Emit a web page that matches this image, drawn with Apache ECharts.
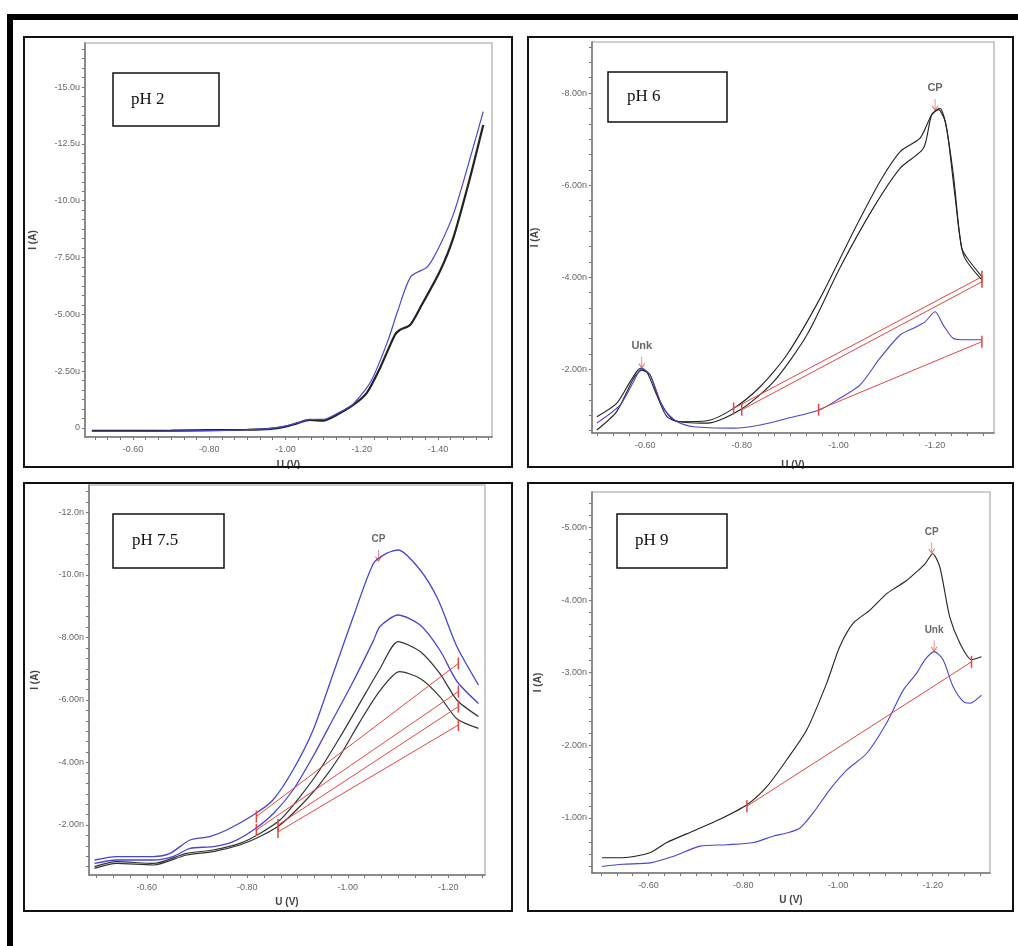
<!DOCTYPE html>
<html>
<head>
<meta charset="utf-8">
<script src="https://cdn.jsdelivr.net/npm/echarts@6/dist/echarts.min.js"></script>
<style>html,body{margin:0;background:#fff}#main{width:1018px;height:946px}</style>
</head>
<body>
<div id="main"></div>
<script>
// tick labels of each panel
var xTicks = [-0.6, -0.8, -1.0, -1.2, -1.4];
var xTickLabels = ['-0.60', '-0.80', '-1.00', '-1.20', '-1.40'];
var ph2YTicks = [0, -2.5, -5, -7.5, -10, -12.5, -15];
var ph2YLabels = ['0', '-2.50u', '-5.00u', '-7.50u', '-10.0u', '-12.5u', '-15.0u'];
var ph6YTicks = [-2, -4, -6, -8];
var ph6YLabels = ['-2.00n', '-4.00n', '-6.00n', '-8.00n'];
var ph75YTicks = [-2, -4, -6, -8, -10, -12];
var ph75YLabels = ['-2.00n', '-4.00n', '-6.00n', '-8.00n', '-10.0n', '-12.0n'];
var ph9YTicks = [-1, -2, -3, -4, -5];
var ph9YLabels = ['-1.00n', '-2.00n', '-3.00n', '-4.00n', '-5.00n'];

// curves [U (V), I]
var ph2Black = [[-0.492,0.13],[-0.60,0.13],[-0.70,0.12],[-0.80,0.10],[-0.90,0.08],[-0.96,0.04],[-1.00,-0.06],[-1.03,-0.2],[-1.064,-0.35],[-1.099,-0.32],[-1.134,-0.57],[-1.178,-1.01],[-1.213,-1.53],[-1.248,-2.63],[-1.287,-4.09],[-1.300,-4.31],[-1.327,-4.53],[-1.353,-5.27],[-1.405,-6.88],[-1.440,-8.34],[-1.484,-10.99],[-1.519,-13.33]];
var ph2Blue = [[-0.492,0.15],[-0.60,0.15],[-0.70,0.14],[-0.80,0.12],[-0.90,0.08],[-0.96,0.02],[-1.00,-0.08],[-1.03,-0.22],[-1.064,-0.37],[-1.10,-0.38],[-1.134,-0.62],[-1.178,-1.06],[-1.224,-2.04],[-1.268,-3.80],[-1.294,-5.12],[-1.329,-6.66],[-1.373,-7.10],[-1.408,-8.13],[-1.443,-9.52],[-1.482,-11.72],[-1.519,-13.92]];

var ph6BlackA = [[-0.50,-0.97],[-0.541,-1.26],[-0.569,-1.73],[-0.590,-2.02],[-0.603,-1.95],[-0.624,-1.44],[-0.645,-0.97],[-0.672,-0.86],[-0.728,-0.88],[-0.783,-1.15],[-0.838,-1.62],[-0.893,-2.31],[-0.962,-3.54],[-1.031,-4.99],[-1.086,-6.08],[-1.128,-6.73],[-1.169,-7.02],[-1.193,-7.53],[-1.207,-7.64],[-1.221,-7.38],[-1.238,-6.22],[-1.255,-4.63],[-1.272,-4.34],[-1.297,-4.01]];
var ph6BlackB = [[-0.50,-0.68],[-0.541,-1.08],[-0.576,-1.80],[-0.593,-1.98],[-0.610,-1.88],[-0.631,-1.30],[-0.659,-0.90],[-0.728,-0.83],[-0.797,-1.12],[-0.866,-1.73],[-0.935,-2.75],[-1.003,-4.20],[-1.072,-5.50],[-1.128,-6.37],[-1.176,-6.80],[-1.193,-7.53],[-1.210,-7.67],[-1.224,-7.24],[-1.241,-5.79],[-1.259,-4.48],[-1.297,-3.94]];
var ph6Blue = [[-0.50,-0.83],[-0.548,-1.22],[-0.576,-1.73],[-0.593,-2.02],[-0.610,-1.88],[-0.638,-1.15],[-0.666,-0.86],[-0.700,-0.75],[-0.783,-0.72],[-0.838,-0.79],[-0.893,-0.93],[-0.962,-1.12],[-1.003,-1.37],[-1.045,-1.66],[-1.086,-2.24],[-1.128,-2.75],[-1.155,-2.89],[-1.179,-3.03],[-1.200,-3.25],[-1.217,-2.96],[-1.238,-2.67],[-1.265,-2.64],[-1.297,-2.64]];
var ph6Base = [
  [[-0.783,-1.15],[-1.297,-4.01]],
  [[-0.800,-1.12],[-1.297,-3.90]],
  [[-0.959,-1.12],[-1.297,-2.60]]
];
var ph6Peaks = [[-0.593,-2.02,'Unk'],[-1.200,-7.62,'CP']];

var ph75Blue1 = [[-0.496,-0.88],[-0.540,-0.99],[-0.613,-0.99],[-0.646,-1.09],[-0.686,-1.52],[-0.725,-1.63],[-0.759,-1.84],[-0.812,-2.32],[-0.851,-2.80],[-0.891,-3.76],[-0.931,-5.04],[-0.971,-6.85],[-1.011,-8.67],[-1.051,-10.37],[-1.077,-10.69],[-1.100,-10.80],[-1.144,-10.16],[-1.180,-9.20],[-1.217,-7.71],[-1.260,-6.48]];
var ph75Blue2 = [[-0.496,-0.77],[-0.540,-0.88],[-0.613,-0.88],[-0.652,-0.99],[-0.686,-1.25],[-0.732,-1.31],[-0.772,-1.47],[-0.812,-1.84],[-0.852,-2.37],[-0.891,-3.12],[-0.931,-4.2],[-0.971,-5.4],[-1.011,-6.6],[-1.051,-7.9],[-1.064,-8.35],[-1.100,-8.72],[-1.144,-8.4],[-1.183,-7.6],[-1.217,-6.6],[-1.260,-5.89]];
var ph75Black1 = [[-0.496,-0.67],[-0.540,-0.83],[-0.613,-0.77],[-0.679,-1.09],[-0.732,-1.2],[-0.785,-1.41],[-0.825,-1.73],[-0.865,-2.16],[-0.905,-2.91],[-0.944,-3.76],[-0.984,-4.8],[-1.024,-5.9],[-1.064,-7.0],[-1.100,-7.87],[-1.144,-7.55],[-1.183,-6.85],[-1.217,-6.0],[-1.260,-5.47]];
var ph75Black2 = [[-0.496,-0.61],[-0.540,-0.77],[-0.613,-0.72],[-0.679,-1.04],[-0.732,-1.15],[-0.785,-1.36],[-0.825,-1.63],[-0.865,-2.0],[-0.905,-2.6],[-0.944,-3.3],[-0.984,-4.2],[-1.024,-5.3],[-1.064,-6.3],[-1.103,-6.91],[-1.144,-6.69],[-1.183,-6.11],[-1.217,-5.4],[-1.260,-5.09]];
var ph75Base = [
  [[-0.818,-2.27],[-1.220,-7.17]],
  [[-0.818,-1.84],[-1.220,-6.27]],
  [[-0.861,-2.00],[-1.220,-5.79]],
  [[-0.861,-1.78],[-1.220,-5.20]]
];
var ph75Peaks = [[-1.061,-10.43,'CP']];

var ph9Black = [[-0.502,-0.45],[-0.546,-0.45],[-0.603,-0.52],[-0.639,-0.66],[-0.695,-0.82],[-0.751,-0.98],[-0.808,-1.18],[-0.850,-1.43],[-0.892,-1.80],[-0.934,-2.21],[-0.976,-2.85],[-1.004,-3.36],[-1.032,-3.68],[-1.067,-3.86],[-1.103,-4.09],[-1.124,-4.18],[-1.145,-4.27],[-1.166,-4.39],[-1.184,-4.50],[-1.200,-4.64],[-1.215,-4.46],[-1.236,-3.77],[-1.258,-3.40],[-1.282,-3.18],[-1.303,-3.22]];
var ph9Blue = [[-0.502,-0.33],[-0.546,-0.36],[-0.604,-0.38],[-0.653,-0.47],[-0.709,-0.61],[-0.765,-0.63],[-0.822,-0.66],[-0.864,-0.75],[-0.892,-0.79],[-0.920,-0.86],[-0.948,-1.07],[-0.983,-1.39],[-1.019,-1.66],[-1.061,-1.89],[-1.103,-2.31],[-1.138,-2.76],[-1.166,-2.99],[-1.184,-3.18],[-1.203,-3.29],[-1.222,-3.18],[-1.243,-2.81],[-1.265,-2.60],[-1.279,-2.58],[-1.303,-2.69]];
var ph9Base = [
  [[-0.808,-1.16],[-1.282,-3.15]]
];
var ph9Peaks = [[-1.198,-4.64,'CP'],[-1.203,-3.29,'Unk']];

var BLACK = '#222', BLUE = '#4646d2', RED = '#e4453f';

function minorTicks(anchor, step, lo, hi) {
  var out = [];
  var k = Math.ceil((lo - anchor) / step - 1e-9);
  for (; anchor + k * step <= hi + 1e-9; k++) out.push(+(anchor + k * step).toFixed(6));
  return out;
}
function labelFor(values, labels) {
  return function (v) {
    for (var i = 0; i < values.length; i++) if (Math.abs(values[i] - v) < 1e-6) return labels[i];
    return '';
  };
}

var panels = [
  {grid: {left: 85, top: 43, width: 407, height: 394}, x: [-1.542, -0.474], y: [-16.94, 0.40],
   yt: ph2YTicks, yl: ph2YLabels, ystep: 2.5, gapY: 47, gapX: 23},
  {grid: {left: 592, top: 42, width: 402, height: 391}, x: [-1.322, -0.490], y: [-9.11, -0.615],
   yt: ph6YTicks, yl: ph6YLabels, ystep: 2, gapY: 52, gapX: 27},
  {grid: {left: 89, top: 485, width: 396, height: 390}, x: [-1.273, -0.485], y: [-12.88, -0.40],
   yt: ph75YTicks, yl: ph75YLabels, ystep: 2, gapY: 49, gapX: 22},
  {grid: {left: 592, top: 492, width: 398, height: 381}, x: [-1.321, -0.481], y: [-5.49, -0.24],
   yt: ph9YTicks, yl: ph9YLabels, ystep: 1, gapY: 49, gapX: 22}
];

var grids = [], xAxes = [], yAxes = [];
panels.forEach(function (p, i) {
  grids.push(Object.assign({show: true, borderColor: '#bdbdbd', borderWidth: 1.5, backgroundColor: '#fff'}, p.grid));
  var xl = xTicks.filter(function (v) { return v >= p.x[0] && v <= p.x[1]; });
  xAxes.push({
    type: 'value', gridIndex: i, min: p.x[0], max: p.x[1], inverse: true,
    name: 'U (V)', nameLocation: 'middle', nameGap: p.gapX,
    nameTextStyle: {fontFamily: 'Liberation Sans', fontWeight: 'bold', fontSize: 10, color: '#444'},
    axisLine: {onZero: false, lineStyle: {color: '#777', width: 1.5}},
    axisTick: {customValues: minorTicks(-0.6, 0.2 / 6, p.x[0], p.x[1]), length: 3, lineStyle: {color: '#777'}},
    axisLabel: {customValues: xl, formatter: labelFor(xTicks, xTickLabels), margin: 8,
      fontFamily: 'Liberation Sans', fontSize: 9, color: '#666'},
    splitLine: {show: false}
  });
  yAxes.push({
    type: 'value', gridIndex: i, min: p.y[0], max: p.y[1], inverse: true,
    name: 'I (A)', nameLocation: 'middle', nameGap: p.gapY,
    nameTextStyle: {fontFamily: 'Liberation Sans', fontWeight: 'bold', fontSize: 10, color: '#444'},
    axisLine: {onZero: false, lineStyle: {color: '#777', width: 1.5}},
    axisTick: {customValues: minorTicks(0, p.ystep / 6, p.y[0], p.y[1]), length: 3, lineStyle: {color: '#777'}},
    axisLabel: {customValues: p.yt, formatter: labelFor(p.yt, p.yl), margin: 5,
      fontFamily: 'Liberation Sans', fontSize: 9, color: '#666'},
    splitLine: {show: false}
  });
});

var series = [];
function curve(data, color, width, i) {
  series.push({type: 'line', xAxisIndex: i, yAxisIndex: i, data: data, showSymbol: false, smooth: 0.25,
    lineStyle: {color: color, width: width}, silent: true});
}
function baselines(list, i) {
  list.forEach(function (seg) {
    series.push({type: 'line', xAxisIndex: i, yAxisIndex: i, data: seg, symbol: 'rect', symbolSize: [1.5, 12],
      itemStyle: {color: RED}, lineStyle: {color: RED, width: 1}, silent: true});
  });
}
function peaks(list, i, size) {
  series.push({type: 'scatter', xAxisIndex: i, yAxisIndex: i, data: list,
    symbol: 'path://M0,0L0,10M-3,6L0,10L3,6', symbolSize: [6, 11], symbolOffset: [0, -6],
    itemStyle: {color: 'none', borderColor: RED, borderWidth: 1},
    label: {show: true, position: 'top', distance: 2, formatter: function (p) { return p.value[2]; },
      fontFamily: 'Liberation Sans', fontWeight: 'bold', fontSize: size, color: '#444'}, silent: true});
}

curve(ph2Black, BLACK, 2.2, 0);
curve(ph2Blue, BLUE, 1.2, 0);

curve(ph6BlackA, BLACK, 1.1, 1);
curve(ph6BlackB, BLACK, 1.1, 1);
curve(ph6Blue, BLUE, 1.1, 1);
baselines(ph6Base, 1);
peaks(ph6Peaks, 1, 11);

curve(ph75Blue1, BLUE, 1.3, 2);
curve(ph75Blue2, BLUE, 1.3, 2);
curve(ph75Black1, '#333', 1.2, 2);
curve(ph75Black2, '#333', 1.2, 2);
baselines(ph75Base, 2);
peaks(ph75Peaks, 2, 10);

curve(ph9Black, BLACK, 1.1, 3);
curve(ph9Blue, BLUE, 1.1, 3);
baselines(ph9Base, 3);
peaks(ph9Peaks, 3, 10);

function phBox(x, y, w, h, tx, text) {
  return {type: 'group', children: [
    {type: 'rect', shape: {x: x, y: y, width: w, height: h}, style: {fill: '#fff', stroke: '#111', lineWidth: 1.5}},
    {type: 'text', x: tx, y: y + h / 2, style: {text: text, font: '17px "Liberation Serif"', fill: '#111', verticalAlign: 'middle'}}
  ]};
}

var myChart = echarts.init(document.getElementById('main'));
myChart.setOption({
  animation: false,
  backgroundColor: '#fff',
  grid: grids,
  xAxis: xAxes,
  yAxis: yAxes,
  series: series,
  graphic: {elements: [
    {type: 'rect', z: 100, shape: {x: 20, y: 469, width: 1000, height: 12}, style: {fill: '#fff'}},
    {type: 'rect', z: 100, shape: {x: 10, y: 17, width: 1030, height: 960}, style: {fill: 'none', stroke: '#000', lineWidth: 6}},
    {type: 'rect', z: 100, shape: {x: 24, y: 37, width: 488, height: 430}, style: {fill: 'none', stroke: '#111', lineWidth: 2}},
    {type: 'rect', z: 100, shape: {x: 528, y: 37, width: 485, height: 430}, style: {fill: 'none', stroke: '#111', lineWidth: 2}},
    {type: 'rect', z: 100, shape: {x: 24, y: 483, width: 488, height: 428}, style: {fill: 'none', stroke: '#111', lineWidth: 2}},
    {type: 'rect', z: 100, shape: {x: 528, y: 483, width: 485, height: 428}, style: {fill: 'none', stroke: '#111', lineWidth: 2}},
    Object.assign(phBox(113, 73, 106, 53, 131, 'pH 2'), {z: 100}),
    Object.assign(phBox(608, 72, 119, 50, 627, 'pH 6'), {z: 100}),
    Object.assign(phBox(113, 514, 111, 54, 132, 'pH 7.5'), {z: 100}),
    Object.assign(phBox(617, 514, 110, 54, 635, 'pH 9'), {z: 100})
  ]}
});
</script>
</body>
</html>
